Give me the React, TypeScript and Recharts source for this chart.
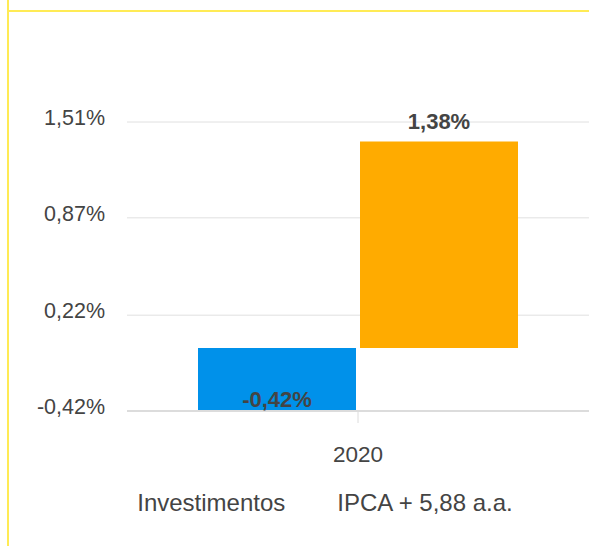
import { Bar, BarChart, CartesianGrid, LabelList, Legend, XAxis, YAxis } from 'recharts';

const years = ['2020'];
const investimentos = [-0.42];
const ipca = [1.38];
const yTicks = [-0.42, 0.22, 0.87, 1.51];
const seriesNames = ['Investimentos', 'IPCA + 5,88 a.a.'];

const data = years.map((year, i) => ({
  year,
  investimentos: investimentos[i],
  ipca: ipca[i],
}));

const TEXT = '#444444';
const FONT = '"Liberation Sans", Arial, sans-serif';

const pct = (v: number) => v.toFixed(2).replace('.', ',') + '%';

function YTick(props: any) {
  const { x, y, payload } = props;
  return (
    <text x={x} y={y + 3} textAnchor="end" fill={TEXT} fontSize={21.5} fontFamily={FONT}>
      {pct(payload.value)}
    </text>
  );
}

function XTick(props: any) {
  const { x, y, payload } = props;
  return (
    <text x={x} y={y + 39} textAnchor="middle" fill={TEXT} fontSize={22.5} fontFamily={FONT}>
      {payload.value}
    </text>
  );
}

function BarLabel(props: any) {
  const { x, y, width, height, value } = props;
  const top = Math.min(y, y + height);
  const bottom = Math.max(y, y + height);
  const ty = value >= 0 ? top - 12 : bottom - 4;
  return (
    <text
      x={x + width / 2}
      y={ty}
      textAnchor="middle"
      fill={TEXT}
      fontSize={22}
      fontWeight="bold"
      fontFamily={FONT}
    >
      {pct(value)}
    </text>
  );
}

function LegendText(props: any) {
  const items = [...(props.payload || [])].sort(
    (a: any, b: any) => seriesNames.indexOf(a.value) - seriesNames.indexOf(b.value)
  );
  return (
    <div
      style={{
        height: 40,
        lineHeight: '40px',
        display: 'flex',
        justifyContent: 'center',
        gap: 52,
        paddingLeft: 61,
        fontFamily: FONT,
        fontSize: 24,
        color: TEXT,
      }}
    >
      {items.map((p: any) => (
        <span key={p.value}>{p.value}</span>
      ))}
    </div>
  );
}

export default function App() {
  return (
    <div
      style={{
        position: 'absolute',
        left: 0,
        top: 0,
        width: 589,
        height: 546,
        background: '#fff',
        overflow: 'hidden',
      }}
    >
      <div style={{ position: 'absolute', left: 7, top: 0, width: 2, height: 546, background: '#FFEB55' }} />
      <div style={{ position: 'absolute', left: 9, top: 10, width: 580, height: 2, background: '#FFEB55' }} />
      <BarChart
        width={589}
        height={546}
        data={data}
        margin={{ top: 122, right: 0, left: 0, bottom: 23 }}
        barSize={158}
        barGap={4}
      >
        <CartesianGrid vertical={false} stroke="#e0e0e0" />
        <XAxis
          dataKey="year"
          height={72}
          tick={<XTick />}
          tickSize={12}
          tickMargin={0}
          axisLine={{ stroke: '#dcdcdc', strokeWidth: 2 }}
          tickLine={{ stroke: '#dcdcdc' }}
        />
        <YAxis
          width={127}
          domain={[-0.42, 1.51]}
          ticks={yTicks}
          allowDataOverflow
          axisLine={false}
          tickLine={false}
          tickSize={0}
          tickMargin={22}
          tick={<YTick />}
        />
        <Legend verticalAlign="bottom" content={<LegendText />} />
        <Bar dataKey="investimentos" name={seriesNames[0]} fill="#0091EA" isAnimationActive={false}>
          <LabelList dataKey="investimentos" content={<BarLabel />} />
        </Bar>
        <Bar dataKey="ipca" name={seriesNames[1]} fill="#FFAB00" isAnimationActive={false}>
          <LabelList dataKey="ipca" content={<BarLabel />} />
        </Bar>
      </BarChart>
    </div>
  );
}
